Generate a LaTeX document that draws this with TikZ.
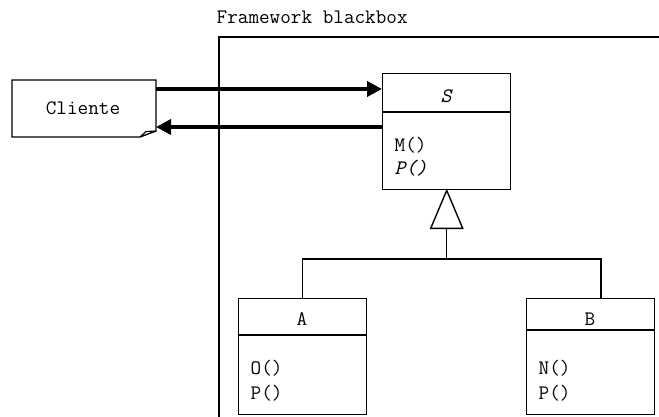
\documentclass[tikz,border=0pt]{standalone}
\usepackage{fontspec}
\usetikzlibrary{arrows.meta,calc}
\begin{document}
\begin{tikzpicture}[x=1pt,y=-1pt,
  font=\ttfamily\fontsize{20.6}{23}\selectfont,
  line width=1.4pt,
  umlbox/.style={draw, line width=1.4pt, rectangle, inner sep=0pt, anchor=north west},
  txt/.style={inner sep=0pt, anchor=west},
  ctxt/.style={inner sep=0pt},
  flow/.style={line width=3.6pt, -{Triangle[length=15pt,width=15pt]}}]
\useasboundingbox (0,0) rectangle (659,417);
% frame
\node[txt] (lbl) at (216,17) {Framework blackbox};
\coordinate (fbl) at (219,417);
\coordinate (ftl) at (219,37);
\coordinate (ftr) at (660,37);
\draw (fbl) -- (ftl) -- (ftr);
% Cliente note
\draw (12,80) -- (156,80) -- (156,131) -- (140,137) -- (12,137) -- cycle;
\draw[line width=1.1pt] (140,137) -- (146,131.5) -- (156,131);
\node[ctxt] (Cliente) at (83,108) {Cliente};
\coordinate (cE) at (156,108);
% S class
\node[umlbox, minimum width=128pt, minimum height=116pt] (S) at (382,73) {};
\draw (382,112) -- (510,112);
\node[ctxt] (Sn) at (446,96) {\itshape S};
\node[txt] (Sm) at (394,145) {M()};
\node[txt] (Sp) at (394,168) {\itshape P()};
% A class
\node[umlbox, minimum width=128pt, minimum height=116pt] (A) at (238,298) {};
\draw (238,335) -- (366,335);
\node[ctxt] (An) at (302,319) {A};
\node[txt] (Ao) at (250,368) {O()};
\node[txt] (Ap) at (250,393) {P()};
% B class
\node[umlbox, minimum width=128pt, minimum height=116pt] (B) at (526,298) {};
\draw (526,330) -- (654,330);
\node[ctxt] (Bn) at (590,319) {B};
\node[txt] (Bo) at (538,368) {N()};
\node[txt] (Bp) at (538,393) {P()};
% flows between Cliente and S
\draw[flow] (cE |- 0,89) -- (S.west |- 0,89);
\draw[flow] (S.west |- 0,127) -- (cE |- 0,127);
% inheritance
\coordinate (tb) at ($(S.south)+(0,38)$);
\draw (S.south) -- ++(-16,38) -- ++(32,0) -- cycle;
\coordinate (junc) at (tb |- 0,259);
\coordinate (Btop) at (601,298);
\draw (tb) -- (junc);
\draw (A.north) |- (junc) -| (Btop);
\end{tikzpicture}
\end{document}
